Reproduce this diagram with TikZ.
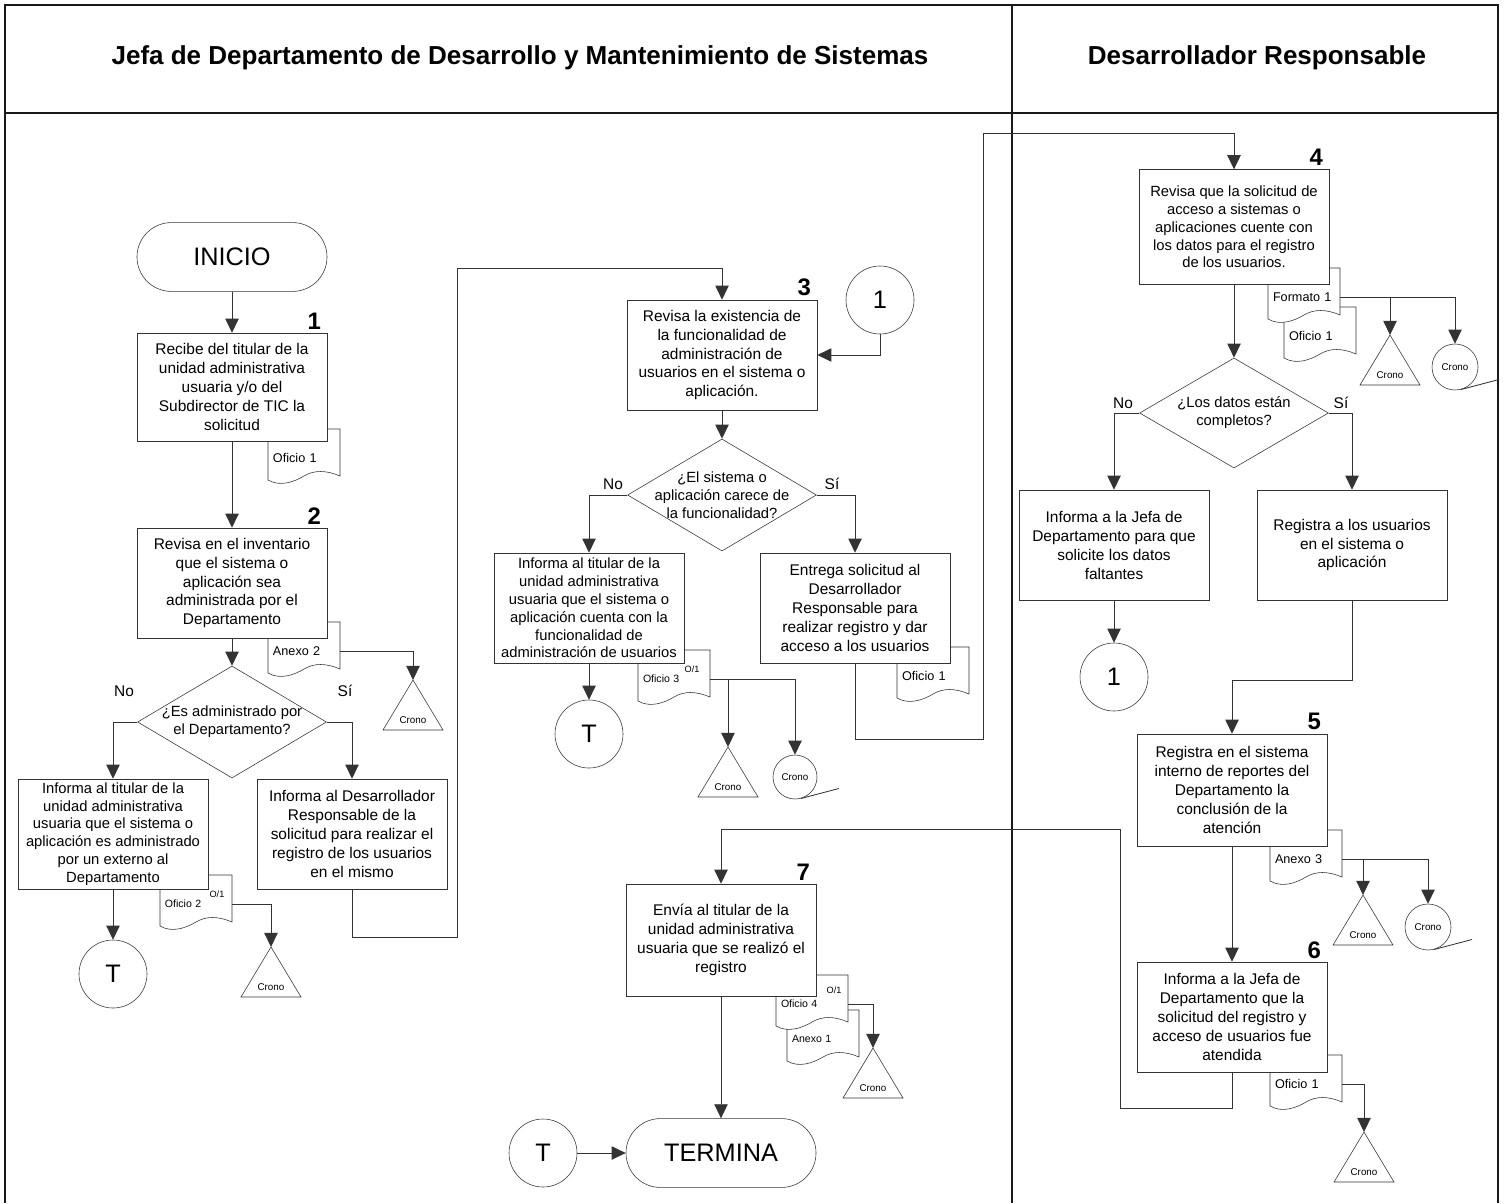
\documentclass[tikz,border=0pt]{standalone}
\usepackage{fontspec}
\setmainfont{Liberation Sans}
\usetikzlibrary{positioning,shapes.geometric,arrows.meta}

\tikzset{
  lane/.style={line width=2pt, draw=black!90},
  head/.style={font=\bfseries\fontsize{18.5}{18.5}\selectfont},
  proc/.style={draw=black!80, fill=white, minimum width=4.75cm, minimum height=2.75cm,
    align=center, inner sep=1pt, font=\fontsize{11}{13.5}\selectfont},
  tight/.style={font=\fontsize{10.5}{12.7}\selectfont},
  term/.style={draw=black!80, fill=white, rounded corners=0.86cm, minimum width=4.75cm,
    minimum height=1.72cm, font=\fontsize{18}{18}\selectfont},
  decision/.style={diamond, draw=black!80, fill=white, minimum width=4.72cm,
    minimum height=2.8cm, inner sep=0pt},
  qtext/.style={align=center, inner sep=0pt, font=\fontsize{10.5}{12.8}\selectfont},
  conn/.style={circle, draw=black!80, fill=white, minimum size=1.7cm, inner sep=0pt,
    font=\fontsize{18}{18}\selectfont},
  reel/.style={circle, draw=black!80, fill=white, minimum size=1.1cm, inner sep=0pt,
    font=\fontsize{7}{7}\selectfont},
  num/.style={font=\bfseries\fontsize{17}{17}\selectfont, inner sep=0pt},
  lbl/.style={font=\fontsize{11}{11}\selectfont, inner sep=0pt},
  doctext/.style={minimum width=1.8cm, text width=1.55cm, inner xsep=0.125cm,
    inner ysep=0pt, align=left, font=\fontsize{9}{9}\selectfont},
  docsmall/.style={font=\fontsize{7.5}{7.5}\selectfont},
  oslash/.style={font=\fontsize{6.5}{6.5}\selectfont, inner sep=0pt},
  cronotxt/.style={font=\fontsize{7}{7}\selectfont, inner sep=0pt},
  symb/.style={draw=black!80, fill=white},
  wire/.style={draw=black!80, line width=0.6pt},
  flow/.style={wire, -{Triangle[length=10pt,width=9.5pt]}},
}

% document sheet with wavy bottom: [opts]{name}{left}{top}{text}
\newcommand{\docu}[5][]{%
  \draw[symb] (#3,#4) -- ({#3+72},#4) -- ({#3+72},{#4+47})
    .. controls ({#3+58},{#4+41}) and ({#3+46},{#4+41}) .. ({#3+36},{#4+47})
    .. controls ({#3+26},{#4+53}) and ({#3+12},{#4+58}) .. (#3,{#4+51}) -- cycle;
  \node[doctext,#1] (#2) at ({#3+36},{#4+29}) {#5};}

% archive triangle, apex at the given point
\newcommand{\crono}[3]{%
  \coordinate (#1) at (#2,#3);
  \draw[symb] (#1) -- ++(-30,50) -- ++(60,0) -- cycle;
  \node[cronotxt] (#1t) at (#2,{#3+40}) {Crono};}

\begin{document}
\begin{tikzpicture}[x=0.025cm, y=-0.025cm]
\useasboundingbox (0,0) rectangle (1504,1203);

% lanes
\draw[lane] (5,1203) -- (5,5) -- (1498,5) -- (1498,1203);
\draw[lane] (5,113) -- (1498,113);
\draw[lane] (1012,5) -- (1012,1203);
\node[head] (jefa) at (520,58) {Jefa de Departamento de Desarrollo y Mantenimiento de Sistemas};
\node[head] (dev) at (1257,58) {Desarrollador Responsable};

% documents (drawn first, boxes sit on top)
\docu{of1}{268}{429}{Oficio 1}
\docu{an2}{268}{622}{Anexo 2}
\docu[docsmall]{of2}{160}{875}{Oficio 2}
\docu[docsmall]{of3}{638}{650}{Oficio 3}
\docu{of1b}{897}{647}{Oficio 1}
\docu{of1c}{1284}{307}{Oficio 1}
\docu{fo1}{1268}{268}{Formato 1}
\docu{an3}{1270}{830}{Anexo 3}
\docu{of1d}{1270}{1055}{Oficio 1}
\docu[docsmall]{an1}{787}{1010}{Anexo 1}
\docu[docsmall]{of4}{776}{975}{Oficio 4}
\node[oslash] (o2) at (217,894) {O/1};
\node[oslash] (o3) at (692,669) {O/1};
\node[oslash] (o4) at (834,990) {O/1};

% jefa lane, left column
\node[term] (inicio) at (232,257) {INICIO};
\node[proc, minimum height=2.7cm] (s1) at (232,387)
  {Recibe del titular de la\\unidad administrativa\\usuaria y/o del\\Subdirector de TIC la\\solicitud};
\node[num] (n1) [above left=0.08cm and 0.15cm of s1.north east] {1};
\node[proc] (s2) at (232,583)
  {Revisa en el inventario\\que el sistema o\\aplicación sea\\administrada por el\\Departamento};
\node[num] (n2) [above left=0.08cm and 0.15cm of s2.north east] {2};
\crono{cr2}{413}{680}
\node[decision] (q1) at (232,722) {};
\node[qtext] (q1t) at (q1) {¿Es administrado por\\el Departamento?};
\node[lbl] (no1) at (124,691) {No};
\node[lbl] (si1) at (345,691) {Sí};
\node[proc,tight] (s2a) at (113,834)
  {Informa al titular de la\\unidad administrativa\\usuaria que el sistema o\\aplicación es administrado\\por un externo al\\Departamento};
\node[proc] (s2b) at (352,834)
  {Informa al Desarrollador\\Responsable de la\\solicitud para realizar el\\registro de los usuarios\\en el mismo};
\node[conn] (t1) at (113,974) {T};
\crono{cr2a}{271}{947}

% jefa lane, middle column
\node[proc] (s3) at (722,355)
  {Revisa la existencia de\\la funcionalidad de\\administración de\\usuarios en el sistema o\\aplicación.};
\node[num] (n3) [above left=0.08cm and 0.15cm of s3.north east] {3};
\node[conn] (c1) at (880,300) {1};
\node[decision] (q2) at (722,495) {};
\node[qtext] (q2t) at (q2) {¿El sistema o\\aplicación carece de\\la funcionalidad?};
\node[lbl] (no2) at (613,484) {No};
\node[lbl] (si2) at (832,484) {Sí};
\node[proc,tight] (s3a) at (589,608)
  {Informa al titular de la\\unidad administrativa\\usuaria que el sistema o\\aplicación cuenta con la\\funcionalidad de\\administración de usuarios};
\node[proc] (s3b) at (855,608)
  {Entrega solicitud al\\Desarrollador\\Responsable para\\realizar registro y dar\\acceso a los usuarios};
\node[conn] (t2) at (589,734) {T};
\crono{cr3}{728}{747}
\node[reel] (r3) at (795,777) {Crono};

% desarrollador lane
\node[proc,tight, minimum height=2.87cm] (s4) at (1234,227)
  {Revisa que la solicitud de\\acceso a sistemas o\\aplicaciones cuente con\\los datos para el registro\\de los usuarios.};
\node[num] (n4) [above left=0.08cm and 0.15cm of s4.north east] {4};
\crono{cr4}{1390}{335}
\node[reel, minimum size=1.15cm] (r4) at (1455,367) {Crono};
\node[decision, minimum height=2.75cm] (q3) at (1234,413) {};
\node[qtext] (q3t) at (q3) {¿Los datos están\\completos?};
\node[lbl] (no3) at (1123,403) {No};
\node[lbl] (si3) at (1341,403) {Sí};
\node[proc] (s4a) at (1114,545)
  {Informa a la Jefa de\\Departamento para que\\solicite los datos\\faltantes};
\node[proc] (s4b) at (1352,545)
  {Registra a los usuarios\\en el sistema o\\aplicación};
\node[conn] (c1b) at (1114,677) {1};
\node[proc, minimum height=2.8cm] (s5) at (1232,790)
  {Registra en el sistema\\interno de reportes del\\Departamento la\\conclusión de la\\atención};
\node[num] (n5) [above left=0.08cm and 0.15cm of s5.north east] {5};
\crono{cr5}{1363}{895}
\node[reel, minimum size=1.15cm] (r5) at (1428,927) {Crono};
\node[proc] (s6) at (1232,1017)
  {Informa a la Jefa de\\Departamento que la\\solicitud del registro y\\acceso de usuarios fue\\atendida};
\node[num] (n6) [above left=0.08cm and 0.15cm of s6.north east] {6};
\crono{cr6}{1364}{1132}

% closing steps
\node[proc, minimum height=2.8cm] (s7) at (721,940)
  {Envía al titular de la\\unidad administrativa\\usuaria que se realizó el\\registro};
\node[num] (n7) [above left=0.08cm and 0.15cm of s7.north east] {7};
\crono{cr7}{873}{1048}
\node[conn] (t3) at (543,1153) {T};
\node[term] (fin) at (721,1153) {TERMINA};

% connectors
\draw[flow] (inicio) -- (s1);
\draw[flow] (s1) -- (s2);
\draw[flow] (s2) -- (q1);
\draw[flow] (q1.west) -| (s2a.north);
\draw[flow] (q1.east) -| (s2b.north);
\draw[flow] (s2a) -- (t1);
\draw[flow] (an2.east) -| (cr2);
\draw[flow] (of2.east) -| (cr2a);
\draw[flow] (s2b.south) |- (457,937) -- (457,268) -| (s3.north);
\draw[flow] (c1.south) |- (s3.east);
\draw[flow] (s3) -- (q2);
\draw[flow] (q2.west) -| (s3a.north);
\draw[flow] (q2.east) -| (s3b.north);
\draw[flow] (s3a) -- (t2);
\draw[flow] (of3.east) -| (r3.north);
\draw[flow] (cr3 |- of3.east) -- (cr3);
\draw[flow] (s3b.south) |- (983,739) -- (983,133) -| (s4.north);
\draw[flow] (s4) -- (q3);
\draw[flow] (fo1.east) -| (r4.north);
\draw[flow] (cr4 |- fo1.east) -- (cr4);
\draw[flow] (q3.west) -| (s4a.north);
\draw[flow] (q3.east) -| (s4b.north);
\draw[flow] (s4a) -- (c1b);
\draw[flow] (s4b.south) |- (1232,680) -- (s5.north);
\draw[flow] (an3.east) -| (r5.north);
\draw[flow] (cr5 |- an3.east) -- (cr5);
\draw[flow] (s5) -- (s6);
\draw[flow] (of1d.east) -| (cr6);
\draw[flow] (s6.south) |- (1120,1108) -- (1120,829) -| (s7.north);
\draw[flow] (of4.east) -| (cr7);
\draw[flow] (s7) -- (fin);
\draw[flow] (t3) -- (fin);
\draw[wire] (r3.-75) -- ++(38,-10);
\draw[wire] (r4.-75) -- ++(38,-10);
\draw[wire] (r5.-75) -- ++(38,-10);
\end{tikzpicture}
\end{document}
